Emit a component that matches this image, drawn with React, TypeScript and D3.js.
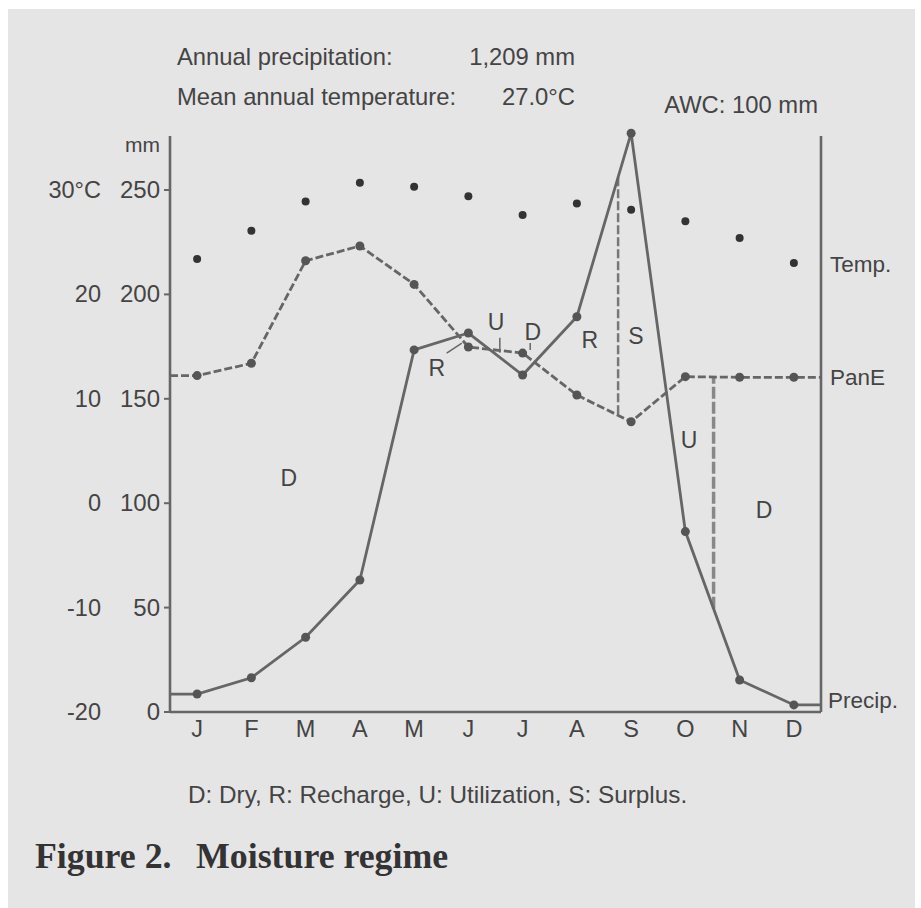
import React from "react";
import * as d3 from "d3";

const months = ["J", "F", "M", "A", "M", "J", "J", "A", "S", "O", "N", "D"];
const temperature = [23.4, 26.1, 28.9, 30.7, 30.3, 29.4, 27.6, 28.7, 28.1, 27.0, 25.4, 23.0];
const precipitation = [8.6, 16.4, 35.8, 63.2, 173.4, 181.5, 161.4, 189.3, 277.2, 86.4, 15.3, 3.4];
const panE = [161.1, 167.0, 216.1, 223.2, 204.8, 174.8, 171.9, 151.8, 139.0, 160.6, 160.3, 160.3];
const mmTicks = [0, 50, 100, 150, 200, 250];
const tempTicks = [-20, -10, 0, 10, 20, 30];
const dividers = [7.76, 9.52];
const regionLabels = [
  { t: "D", m: 1.69, v: 112 },
  { t: "R", m: 4.42, v: 164.8 },
  { t: "U", m: 5.51, v: 186.8 },
  { t: "D", m: 6.19, v: 182 },
  { t: "R", m: 7.24, v: 178.2 },
  { t: "S", m: 8.09, v: 180 },
  { t: "U", m: 9.07, v: 130.3 },
  { t: "D", m: 10.45, v: 96.7 },
];
const annotationTicks = [
  { m1: 4.6, v1: 171.9, m2: 4.88, v2: 176.7 },
  { m1: 5.58, v1: 179.2, m2: 5.58, v2: 172 },
  { m1: 6.14, v1: 176.7, m2: 6.14, v2: 173.4 },
];

const W = 921;
const H = 908;
const LEFT = 170;
const RIGHT = 821;
const BOTTOM = 712;
const TOP = 136;
const FONT = "'Liberation Sans', Arial, sans-serif";
const SERIF = "'Liberation Serif', 'Times New Roman', serif";
const TXT = "#444";
const LINE = "#666";

export default function App() {
  const x = d3.scaleLinear().domain([-0.5, 11.5]).range([LEFT, RIGHT]);
  const y = d3.scaleLinear().domain([0, 250]).range([BOTTOM, 190]);
  const yT = d3.scaleLinear().domain([-20, 30]).range([BOTTOM, 190]);

  const extend = (arr: number[]) => [
    [-0.5, arr[0]],
    ...arr.map((v, i) => [i, v]),
    [11.5, arr[arr.length - 1]],
  ] as [number, number][];

  const line = d3
    .line<[number, number]>()
    .x((d) => x(d[0]))
    .y((d) => y(d[1]));

  const interp = (arr: number[], m: number) => {
    const i = Math.floor(m);
    const t = m - i;
    return arr[i] + (arr[i + 1] - arr[i]) * t;
  };

  return (
    <svg
      width={W}
      height={H}
      style={{ position: "absolute", left: 0, top: 0 }}
      fontFamily={FONT}
    >
      <rect x={0} y={0} width={W} height={H} fill="#fff" />
      <rect x={8} y={9} width={907} height={899} fill="#e5e5e5" />

      {/* header */}
      <g fill={TXT} fontSize={23.8}>
        <text x={177} y={65}>Annual precipitation:</text>
        <text x={575} y={65} textAnchor="end">1,209 mm</text>
        <text x={177} y={105}>Mean annual temperature:</text>
        <text x={575} y={105} textAnchor="end">27.0°C</text>
        <text x={818} y={113} textAnchor="end">AWC: 100 mm</text>
      </g>

      {/* axes frame */}
      <g stroke={LINE} strokeWidth={2.6} fill="none">
        <line x1={LEFT} y1={TOP} x2={LEFT} y2={BOTTOM} />
        <line x1={RIGHT} y1={TOP} x2={RIGHT} y2={BOTTOM} />
        <line x1={LEFT} y1={BOTTOM} x2={RIGHT} y2={BOTTOM} />
      </g>
      <text x={160} y={152} fill={TXT} fontSize={21} textAnchor="end">mm</text>
      {mmTicks.map((t) => (
        <g key={"mm" + t}>
          <line x1={LEFT - 6} x2={LEFT} y1={y(t)} y2={y(t)} stroke={LINE} strokeWidth={2} />
          <text x={160} y={y(t) + 8} fill={TXT} fontSize={24} textAnchor="end">
            {t}
          </text>
        </g>
      ))}
      {tempTicks.map((t) => (
        <text key={"t" + t} x={101} y={yT(t) + 8} fill={TXT} fontSize={23.5} textAnchor="end">
          {t === 30 ? "30°C" : String(t)}
        </text>
      ))}
      {months.map((m, i) => (
        <text key={"m" + i} x={x(i)} y={737} fill={TXT} fontSize={23.5} textAnchor="middle">
          {m}
        </text>
      ))}

      {/* dividers */}
      {dividers.map((m, i) => (
        <line
          key={"dv" + i}
          x1={x(m)}
          x2={x(m)}
          y1={y(interp(precipitation, m))}
          y2={y(interp(panE, m))}
          stroke={i === 0 ? "#777" : "#888"}
          strokeWidth={i === 0 ? 2.5 : 3.5}
          strokeDasharray={i === 0 ? "9,3" : "12,3"}
        />
      ))}

      {/* lines */}
      <path d={line(extend(panE)) || ""} fill="none" stroke={LINE} strokeWidth={2.8} strokeDasharray="8,3" />
      <path d={line(extend(precipitation)) || ""} fill="none" stroke={LINE} strokeWidth={2.8} />
      {annotationTicks.map((a, i) => (
        <line key={"an" + i} x1={x(a.m1)} y1={y(a.v1)} x2={x(a.m2)} y2={y(a.v2)} stroke={LINE} strokeWidth={1.5} />
      ))}
      {panE.map((v, i) => (
        <circle key={"pe" + i} cx={x(i)} cy={y(v)} r={4.5} fill="#555" />
      ))}
      {precipitation.map((v, i) => (
        <circle key={"pr" + i} cx={x(i)} cy={y(v)} r={4.5} fill="#555" />
      ))}
      {temperature.map((v, i) => (
        <circle key={"te" + i} cx={x(i)} cy={yT(v)} r={4} fill="#333" />
      ))}

      {/* region labels */}
      {regionLabels.map((l, i) => (
        <text
          key={"rl" + i}
          x={x(l.m)}
          y={y(l.v) + 8}
          fill={TXT}
          fontSize={23}
          textAnchor="middle"
        >
          {l.t}
        </text>
      ))}

      {/* right labels */}
      <g fill={TXT} fontSize={22.5}>
        <text x={830} y={yT(temperature[11]) + 9}>Temp.</text>
        <text x={830} y={y(panE[11]) + 8}>PanE</text>
        <text x={828} y={y(precipitation[11]) + 3}>Precip.</text>
      </g>

      <text x={188} y={803} fill={TXT} fontSize={24.3}>
        D: Dry, R: Recharge, U: Utilization, S: Surplus.
      </text>
      <g fill="#333" fontSize={35.8} fontWeight="bold" fontFamily={SERIF}>
        <text x={35} y={868}>Figure 2.</text>
        <text x={196} y={868}>Moisture regime</text>
      </g>
    </svg>
  );
}
